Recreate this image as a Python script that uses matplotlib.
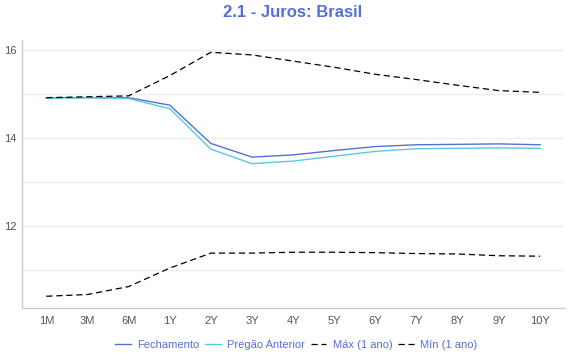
import matplotlib.pyplot as plt

plt.rcParams['font.family'] = ['Liberation Sans', 'DejaVu Sans']

tenors = ['1M', '3M', '6M', '1Y', '2Y', '3Y', '4Y', '5Y', '6Y', '7Y', '8Y', '9Y', '10Y']
fechamento = [14.91, 14.92, 14.92, 14.75, 13.88, 13.57, 13.62, 13.72, 13.81, 13.85, 13.86, 13.87, 13.85]
pregao = [14.90, 14.92, 14.90, 14.67, 13.75, 13.42, 13.48, 13.59, 13.70, 13.76, 13.77, 13.78, 13.77]
maximo = [14.92, 14.94, 14.96, 15.42, 15.95, 15.89, 15.75, 15.61, 15.45, 15.33, 15.20, 15.08, 15.04]
minimo = [10.41, 10.45, 10.63, 11.05, 11.39, 11.39, 11.41, 11.41, 11.40, 11.38, 11.37, 11.33, 11.32]

blue = '#5470d6'
cyan = '#5bc8e0'

fig = plt.figure(figsize=(5.7, 3.6), dpi=100)
ax = fig.add_axes([0.0386, 0.144, 0.953, 0.745])

x = list(range(len(tenors)))
ax.plot(x, fechamento, color=blue, lw=1.0, label='Fechamento')
ax.plot(x, pregao, color=cyan, lw=1.0, label='Pregão Anterior')
ax.plot(x, maximo, color='black', lw=0.9, ls=(0, (5, 3)), label='Máx (1 ano)')
ax.plot(x, minimo, color='black', lw=0.9, ls=(0, (5, 3)), label='Mín (1 ano)')

ax.set_xlim(-0.59, 12.61)
ax.set_ylim(10.14, 16.23)
ax.set_xticks(x)
ax.set_xticklabels(tenors)
ax.set_yticks([12, 14, 16])
ax.set_yticks([11, 13, 15], minor=True)
ax.tick_params(axis='both', which='both', length=0, labelsize=8, colors='#555555')
ax.tick_params(axis='x', pad=6)
ax.tick_params(axis='y', pad=4)
ax.grid(True, which='both', axis='y', color='#eeeeee', lw=1)
ax.set_axisbelow(True)
for s in ['top', 'right']:
    ax.spines[s].set_visible(False)
for s in ['left', 'bottom']:
    ax.spines[s].set_color('#cccccc')
    ax.spines[s].set_linewidth(1)

fig.suptitle('2.1 - Juros: Brasil', x=0.514, y=0.985, fontsize=12, fontweight='bold', color=blue)

leg = fig.legend(loc='lower center', bbox_to_anchor=(0.52, 0.0), ncol=4, frameon=False,
                 fontsize=8, handlelength=1.4, handletextpad=0.6, columnspacing=0.5)
for t in leg.get_texts():
    t.set_color(blue)

fig.savefig('out.png', dpi=100)
